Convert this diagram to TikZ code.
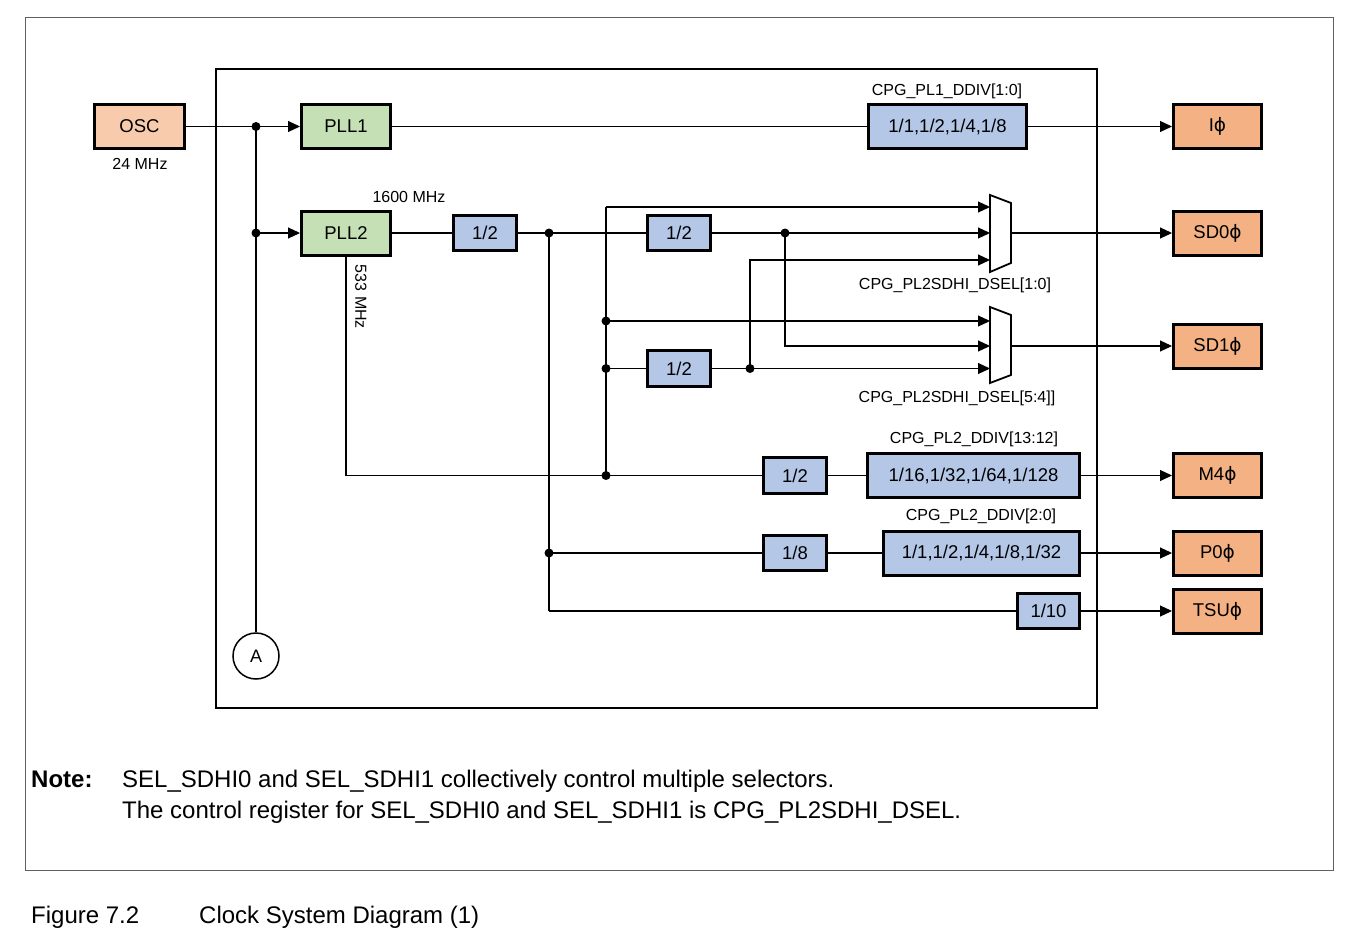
\documentclass[tikz,border=0pt]{standalone}
\usepackage{fontspec}
\setmainfont{Liberation Sans}
\newfontfamily\djv{DejaVu Sans}
\usetikzlibrary{arrows.meta}
\newcommand{\myphi}{{\djv ϕ}}
\definecolor{oscfill}{HTML}{F8CBAD}
\definecolor{outfill}{HTML}{F4B183}
\definecolor{pllfill}{HTML}{C5E0B4}
\definecolor{divfill}{HTML}{B4C7E7}
\definecolor{framegray}{HTML}{606060}
\tikzset{
  blk/.style={draw, line width=3pt, inner sep=0pt, font=\fontsize{18.5}{21}\selectfont},
  oscbox/.style={blk, fill=oscfill, minimum width=90, minimum height=44},
  pllbox/.style={blk, fill=pllfill, minimum width=89, minimum height=44},
  divbox/.style={blk, fill=divfill, minimum width=63, minimum height=35.5},
  ddivbox/.style={blk, fill=divfill, minimum height=44},
  outbox/.style={blk, fill=outfill, minimum width=88, minimum height=44},
  wire/.style={line width=1.1pt},
  arr/.style={wire, -{Triangle[length=12pt,width=11pt]}},
  jdot/.style={circle, fill=black, inner sep=0pt, minimum size=9pt},
  lbl/.style={inner sep=0pt, font=\fontsize{16}{19}\selectfont},
  muxst/.style={draw, line width=1.8pt, fill=white},
  notefont/.style={inner sep=0pt, font=\fontsize{24}{28}\selectfont}
}
\begin{document}
\begin{tikzpicture}[x=1pt,y=-1pt]
\useasboundingbox (0,0) rectangle (1348,939);
% outer frame
\draw[framegray, line width=1pt] (25,18) rectangle (1333,870);
% inner frame
\draw[line width=2.8pt] (216,69) rectangle (1097,708);

% blocks
\node[oscbox] (osc) at (139.5,126.5) {OSC};
\node[lbl] (osclbl) at (140,164) {24 MHz};
\node[pllbox] (pll1) at (346,126.5) {PLL1};
\node[pllbox] (pll2) at (346,233) {PLL2};
\node[lbl] (l1600) at (409,197) {1600 MHz};
\node[lbl, rotate=-90] (l533) at (361,297) {533 MHz};
\node[divbox] (d1) at (485,233) {1/2};
\node[divbox] (d2) at (679,233) {1/2};
\node[divbox] (d3) at (679,368.5) {1/2};
\node[divbox] (d4) at (795,475.5) {1/2};
\node[divbox] (d5) at (795,553) {1/8};
\node[divbox, minimum width=62] (d6) at (1048.5,611) {1/10};
\node[ddivbox, minimum width=158] (dd1) at (947.5,126.5) {1/1,1/2,1/4,1/8};
\node[ddivbox, minimum width=212] (dd2) at (973.5,475.5) {1/16,1/32,1/64,1/128};
\node[ddivbox, minimum width=196] (dd3) at (981.5,553) {1/1,1/2,1/4,1/8,1/32};
\node[lbl] (ldd1) at (947,91) {CPG\_PL1\_DDIV[1:0]};
\node[lbl] (ldd2) at (974,439) {CPG\_PL2\_DDIV[13:12]};
\node[lbl] (ldd3) at (981,516) {CPG\_PL2\_DDIV[2:0]};
\node[lbl] (lm1) at (955,285) {CPG\_PL2SDHI\_DSEL[1:0]};
\node[lbl] (lm2) at (957,398) {CPG\_PL2SDHI\_DSEL[5:4]]};

\node[outbox] (oI) at (1217.5,126.5) {I\myphi};
\node[outbox] (oSD0) at (1217.5,233) {SD0\myphi};
\node[outbox] (oSD1) at (1217.5,346) {SD1\myphi};
\node[outbox] (oM4) at (1217.5,475.5) {M4\myphi};
\node[outbox] (oP0) at (1217.5,553) {P0\myphi};
\node[outbox] (oTSU) at (1217.5,611) {TSU\myphi};

\node[draw, circle, line width=1.5pt, minimum size=46pt, inner sep=0pt, font=\fontsize{18}{21}\selectfont] (cA) at (256,656) {A};

% muxes
\draw[muxst] (990,195) -- (1011,203) -- (1011,263) -- (990,272) -- cycle;
\draw[muxst] (990,307) -- (1011,315) -- (1011,375) -- (990,383) -- cycle;
\coordinate (m1a) at (990,207);
\coordinate (m1b) at (990,233);
\coordinate (m1c) at (990,260);
\coordinate (m1o) at (1011,233);
\coordinate (m2a) at (990,321);
\coordinate (m2b) at (990,346);
\coordinate (m2c) at (990,368.5);
\coordinate (m2o) at (1011,346);

% junctions
\coordinate (j1) at (256,126.5);
\coordinate (j2) at (256,233);
\coordinate (j3) at (549,233);
\coordinate (j4) at (549,553);
\coordinate (j4b) at (549,611);
\coordinate (j5) at (606,475.5);
\coordinate (j6) at (606,321);
\coordinate (j7) at (606,368.5);
\coordinate (j6t) at (606,207);
\coordinate (j8) at (785,233);
\coordinate (j9) at (750,368.5);
\coordinate (p533) at (346,475.5);

% wires
\draw[arr] (osc.east) -- (pll1.west);
\draw[wire] (j1) -- (cA.north);
\draw[arr] (j2) -- (pll2.west);
\draw[wire] (pll1.east) -- (dd1.west);
\draw[arr] (dd1.east) -- (oI.west);
\draw[wire] (pll2.east) -- (d1.west);
\draw[wire] (d1.east) -- (d2.west);
\draw[wire] (j3) -- (j4b);
\draw[wire] (j4) -- (d5.west);
\draw[wire] (j4b) -- (d6.west);
\draw[wire] (d5.east) -- (dd3.west);
\draw[arr] (dd3.east) -- (oP0.west);
\draw[arr] (d6.east) -- (oTSU.west);
\draw[wire] (pll2.south) -- (p533) -- (d4.west);
\draw[wire] (d4.east) -- (dd2.west);
\draw[arr] (dd2.east) -- (oM4.west);
\draw[wire] (j5) -- (j6t);
\draw[arr] (j6t) -- (m1a);
\draw[arr] (j6) -- (m2a);
\draw[wire] (j7) -- (d3.west);
\draw[wire] (d2.east) -- (j8);
\draw[arr] (j8) -- (m1b);
\draw[arr] (j8) |- (m2b);
\draw[wire] (d3.east) -- (j9);
\draw[arr] (j9) -- (m2c);
\draw[arr] (j9) |- (m1c);
\draw[arr] (m1o) -- (oSD0.west);
\draw[arr] (m2o) -- (oSD1.west);

% dots
\foreach \c in {j1,j2,j3,j4,j5,j6,j7,j8,j9} \node[jdot] at (\c) {};

% notes
\node[notefont, anchor=base west, font=\fontsize{24}{28}\selectfont\bfseries] (note) at (31,787) {Note:};
\node[notefont, anchor=base west] (n1) at (122,787) {SEL\_SDHI0 and SEL\_SDHI1 collectively control multiple selectors.};
\node[notefont, anchor=base west] (n2) at (122,818) {The control register for SEL\_SDHI0 and SEL\_SDHI1 is CPG\_PL2SDHI\_DSEL.};
\node[notefont, anchor=base west] (fig) at (31,923) {Figure 7.2};
\node[notefont, anchor=base west] (cap) at (199,923) {Clock System Diagram (1)};
\end{tikzpicture}
\end{document}
